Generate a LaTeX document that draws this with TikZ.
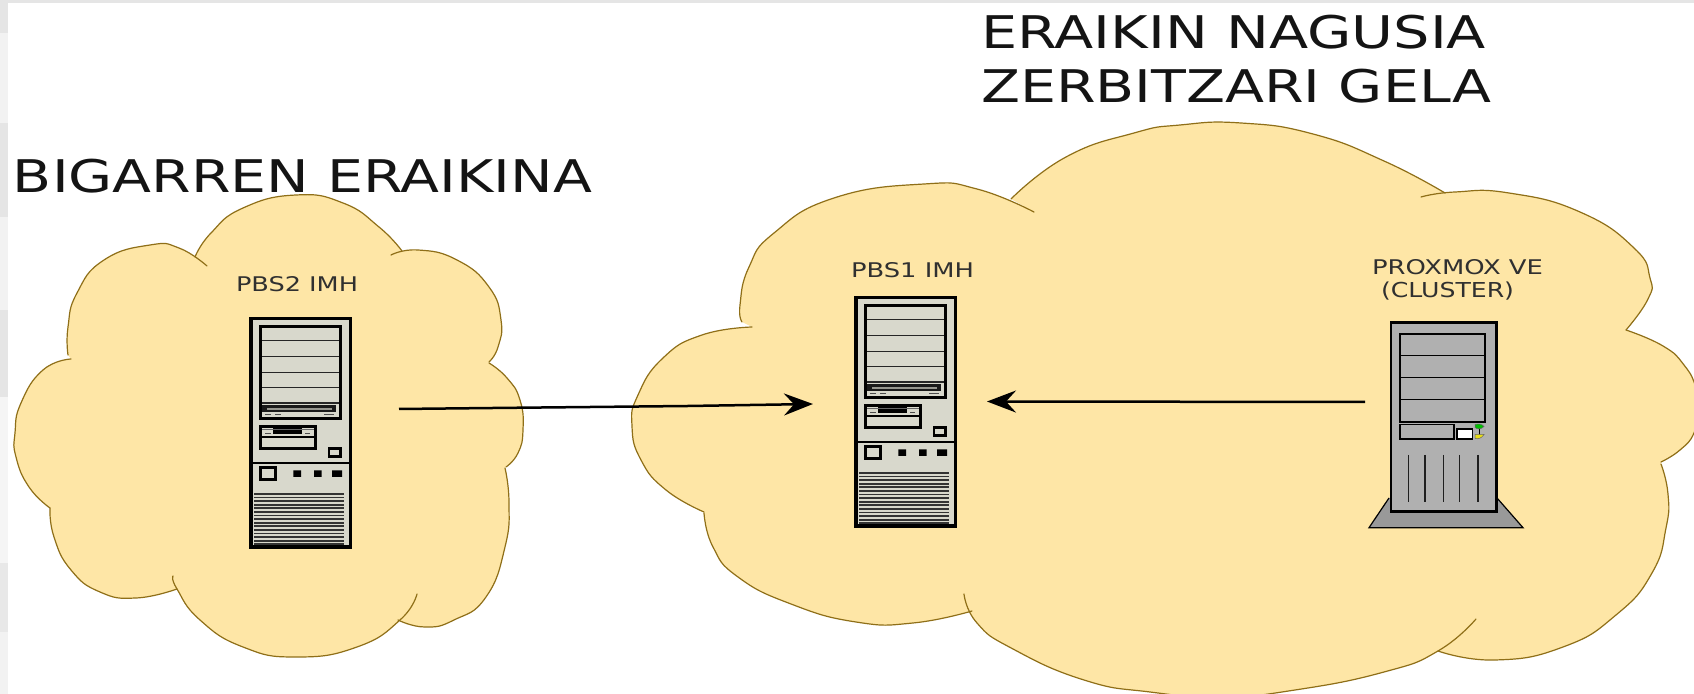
\documentclass[tikz,border=0pt]{standalone}
\usepackage{fontspec}
\usepackage{graphicx}
\setmainfont{DejaVu Sans}
\usetikzlibrary{arrows.meta}
\definecolor{cloudfill}{HTML}{FEE6A6}
\definecolor{cloudline}{HTML}{8F6F18}
\definecolor{beige}{HTML}{D8D8CC}
\definecolor{caseg}{HTML}{B0B0B0}
\definecolor{baseg}{HTML}{999999}
\definecolor{labelg}{HTML}{303030}
\newcommand{\boxedtext}[3]{\resizebox{#1pt}{#2pt}{#3}}
\tikzset{
  cloudarc/.style={draw=cloudline,line width=0.6pt,line cap=round,line join=round},
  cloudbody/.style={fill=cloudfill},
  bigtitle/.style={anchor=base west,inner sep=0pt,outer sep=0pt,text=black!92},
  smalllabel/.style={anchor=base west,inner sep=0pt,outer sep=0pt,text=labelg},
  flow/.style={line width=1.25pt,draw=black,line join=round,-{Stealth[length=14.5pt,width=11pt,inset=5pt]}},
  beigetower/.pic={
    \fill[beige] (0,0) rectangle (103,232);
    % shelves
    \draw[line width=0.65pt,black!85] (12,23.7) -- (91,23.7) (12,39.3) -- (91,39.3) (12,55.3) -- (91,55.3) (12,70.7) -- (91,70.7) (12,86) -- (91,86);
    % optical drive
    \fill[black!90] (13.3,87.7) rectangle (86.7,95);
    \fill[beige!70!black] (17.7,90.6) rectangle (82.7,92.6);
    \draw[line width=0.65pt,black!70] (16,97.7) -- (22,97.7) (26,97.7) -- (32,97.7) (75,97.7) -- (85,97.7);
    \draw[line width=1.5pt] (11.5,9.2) rectangle (91.2,101.2);
    % floppy
    \fill[black] (24.3,111) rectangle (52.7,116.7);
    \draw[line width=0.5pt,black!60] (13,112.3) -- (65,112.3);
    \draw[line width=0.65pt,black!70] (16,116.3) -- (22,116.3) (56,116.3) -- (61,116.3);
    \draw[line width=0.75pt] (12,120) -- (66,120);
    \draw[line width=1.5pt] (11.5,109.8) rectangle (66.8,131.2);
    % small button
    \draw[line width=1.4pt] (80,131.5) rectangle (91.8,139.8);
    % divider
    \draw[line width=0.65pt] (2,146) -- (101,146);
    % power and leds
    \draw[line width=1.7pt] (11.5,150.8) rectangle (26.2,162.8);
    \fill[black] (44.3,153.3) rectangle (52,160) (65,153.3) rectangle (72.7,160) (83,153.3) rectangle (93,160);
    % vents
    \foreach \vy in {0,...,14} {
      \draw[line width=0.9pt,black!80] (5.3,177+3.6*\vy) -- (95.3,177+3.6*\vy);
    }
    \draw[line width=1.75pt] (1.75,1.75) rectangle (101.25,230.25);
  }
}
\begin{document}
\begin{tikzpicture}[x=0.5pt,y=-0.5pt,tension=0.85]
\useasboundingbox (0,0) rectangle (1694,694);
\clip (0,0) rectangle (1694,694);
\fill[white] (0,0) rectangle (1694,694);
% pale window-edge strips
\fill[black!10] (0,0) rectangle (1694,3);
\fill[black!10] (0,0) rectangle (7.5,33);
\fill[black!5]  (0,33) rectangle (7.5,123);
\fill[black!10] (0,123) rectangle (7.5,217);
\fill[black!5]  (0,217) rectangle (7.5,310);
\fill[black!10] (0,310) rectangle (7.5,397);
\fill[black!4]  (0,397) rectangle (7.5,563);
\fill[black!9]  (0,563) rectangle (7.5,632);
\fill[black!5]  (0,632) rectangle (7.5,694);
% ---- left cloud
\def\la{(195,257) (211,233) (243,208) (296,195) (343,203) (379,227) (402,251)}
\def\lb{(391,255) (418,250) (457,260) (489,287) (501,320) (498,347) (489,362)}
\def\lc{(489,363) (507,378) (520,400) (523,430) (518,453) (506,467)}
\def\ld{(505,468) (509,503) (505,547) (486,597) (454,620) (425,627) (398,620)}
\def\le{(417,594) (400,620) (357,647) (296,657) (243,647) (200,620) (177,589) (173,576)}
\def\lf{(177,589) (136,598) (100,592) (71,570) (54,537) (50,508)}
\def\lg{(50,508) (29,487) (16,457) (15,433) (21,403) (43,370) (71,359)}
\def\lh{(68,355) (68,327) (77,293) (104,260) (150,245) (179,248) (207,266)}
\path[cloudbody] plot[smooth] coordinates {\la} -- plot[smooth] coordinates {\lb} -- plot[smooth] coordinates {\lc} -- plot[smooth] coordinates {\ld} -- plot[smooth] coordinates {\le} -- plot[smooth] coordinates {\lf} -- plot[smooth] coordinates {\lg} -- plot[smooth] coordinates {\lh} -- cycle;
\foreach \arc in {\la,\lb,\lc,\ld,\le,\lf,\lg,\lh} {
  \draw[cloudarc] plot[smooth] coordinates {\arc};
}
% ---- right cloud
\def\ra{(1011,199) (1066,157) (1134,133) (1180,125) (1241,123) (1313,134) (1384,161) (1445,193)}
\def\rb{(1421,197) (1455,192) (1509,193) (1580,212) (1634,248) (1650,278) (1648,299) (1626,330)}
\def\rc{(1626,330) (1663,346) (1684,365) (1696,388) (1698,410) (1694,433) (1680,450) (1661,462)}
\def\rd{(1661,464) (1668,494) (1666,528) (1652,573) (1616,615) (1563,647) (1495,660) (1438,651)}
\def\re{(1476,619) (1438,651) (1384,672) (1295,690) (1221,697) (1150,692) (1084,680) (1013,649) (977,623) (964,594)}
\def\rf{(972,611) (913,623) (856,622) (791,604) (738,577) (713,547) (704,513)}
\def\rg{(704,512) (666,490) (641,460) (632,426) (638,395) (663,358) (702,335) (752,327)}
\def\rh{(742,322) (740,305) (749,267) (774,233) (834,198) (924,184) (977,189) (1034,212)}
\path[cloudbody] plot[smooth] coordinates {\ra} -- plot[smooth] coordinates {\rb} -- plot[smooth] coordinates {\rc} -- plot[smooth] coordinates {\rd} -- plot[smooth] coordinates {\re} -- plot[smooth] coordinates {\rf} -- plot[smooth] coordinates {\rg} -- plot[smooth] coordinates {\rh} -- cycle;
\foreach \arc in {\ra,\rb,\rc,\rd,\re,\rf,\rg,\rh} {
  \draw[cloudarc] plot[smooth] coordinates {\arc};
}
% ---- titles
\node[bigtitle] (titleleft) at (13,193) {\boxedtext{289.5}{16.7}{BIGARREN ERAIKINA}};
\node[bigtitle] (titletopa) at (981,48.5) {\boxedtext{252.5}{16.7}{ERAIKIN NAGUSIA}};
\node[bigtitle] (titletopb) at (981,102.5) {\boxedtext{255}{16.7}{ZERBITZARI GELA}};
% ---- small labels
\node[smalllabel] (pbstwo) at (236,292) {\boxedtext{61}{7.5}{PBS2 IMH}};
\node[smalllabel] (pbsone) at (851,278) {\boxedtext{61.5}{7.5}{PBS1 IMH}};
\node[smalllabel] (proxa) at (1372,275) {\boxedtext{85.5}{7.5}{PROXMOX VE}};
\node[smalllabel] (proxb) at (1381,298) {\boxedtext{66.5}{7.8}{(CLUSTER)}};
% ---- beige towers
\pic at (249,317) {beigetower};
\pic at (854,296) {beigetower};
% ---- grey tower
\fill[baseg] (1389,498) -- (1497,498) -- (1523,527.7) -- (1369,527.7) -- cycle;
\draw[line width=0.6pt,line join=miter] (1389,498) -- (1369,527.7) -- (1523,527.7) -- (1497,498);
\fill[caseg] (1391,322.7) rectangle (1495.5,511.5);
\draw[line width=1pt] (1391,322.7) rectangle (1495.5,511.5);
\draw[line width=1.5pt] (1390,322.2) -- (1496,322.2) -- (1496,512) -- (1390,512);
\draw[line width=0.85pt] (1400,334.3) rectangle (1485,421.7);
\draw[line width=0.75pt] (1400,355.3) -- (1485,355.3) (1400,377.3) -- (1485,377.3) (1400,399.3) -- (1485,399.3);
\draw[line width=0.75pt] (1400,424.3) rectangle (1454,439);
\draw[fill=white,line width=0.75pt] (1457,429) rectangle (1472.3,439);
\draw[line width=0.4pt] (1479,426) -- (1479,437);
\fill[green!75!black,draw=black!60,line width=0.25pt] (1475,424.3) .. controls (1478,423.5) and (1482,424) .. (1484,426.5) .. controls (1481,429.5) and (1477,429.5) .. (1475,427.5) -- cycle;
\fill[yellow!90!black,draw=black!60,line width=0.25pt] (1475,434.5) -- (1484,434.5) .. controls (1482,438) and (1478,439.5) .. (1475,438.5) -- cycle;
\draw[line width=0.8pt,black!88] (1408.3,455) -- (1408.3,502.3) (1425,455) -- (1425,502.3) (1443.3,455) -- (1443.3,502.3) (1459.3,455) -- (1459.3,502.3) (1477.7,455) -- (1477.7,502.3);
% ---- connectors
\coordinate (fromtwo) at (399,409);
\coordinate (kinka) at (493,408);
\coordinate (kinkb) at (688,406);
\coordinate (intoone) at (813,404);
\coordinate (fromprox) at (1365,402);
\coordinate (intooneb) at (987,401.5);
\draw[flow] (fromtwo) -- (kinka) -- (kinkb) -- (intoone);
\draw[flow] (fromprox) -- (intooneb);
\end{tikzpicture}
\end{document}
